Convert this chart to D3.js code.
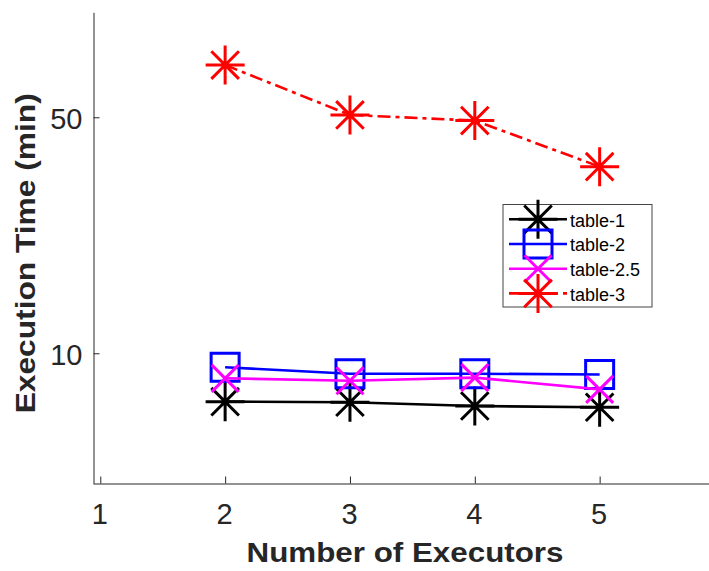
<!DOCTYPE html>
<html>
<head>
<meta charset="utf-8">
<script src="https://cdn.jsdelivr.net/npm/d3@7"></script>
<style>
  html, body { margin: 0; padding: 0; background: #fff; }
  svg { display: block; font-family: "Liberation Sans", Arial, Helvetica, sans-serif; }
</style>
</head>
<body>
<svg id="chart" width="709" height="571"></svg>
<script>
// ---- data ----
const executors = [2, 3, 4, 5];
const seriesNames = ["table-1", "table-2", "table-2.5", "table-3"];
const table1 = [7.19, 7.16, 6.98, 6.92];
const table2 = [9.09, 8.70, 8.70, 8.65];
const table25 = [8.43, 8.29, 8.47, 7.82];
const table3 = [71.4, 50.8, 48.9, 35.7];
const xTicks = [1, 2, 3, 4, 5];
const yTicks = [10, 50];
const xLabel = "Number of Executors";
const yLabel = "Execution Time (min)";

// ---- styles ----
const styles = [
  { color: "#000000", marker: "asterisk", dash: null },
  { color: "#0000ff", marker: "square", dash: null },
  { color: "#ff00ff", marker: "cross", dash: null },
  { color: "#ff0000", marker: "asterisk", dash: "13,5,4,5" }
];
const seriesValues = [table1, table2, table25, table3];

const svg = d3.select("#chart");
const x = d3.scaleLinear().domain([0.9416, 5.876]).range([93, 709]);
const y = d3.scaleLog().domain([4.12, 102.3]).range([483.3, 12.3]);

// axes
const axisColor = "#262626";
const gx = svg.append("g").attr("transform", "translate(0,483.5)")
  .call(d3.axisBottom(x).tickValues(xTicks).tickFormat(d3.format("d"))
    .tickSizeInner(-7).tickSizeOuter(0).tickPadding(19.5));
const gy = svg.append("g").attr("transform", "translate(93.5,0)")
  .call(d3.axisLeft(y).tickValues(yTicks).tickFormat(d3.format("d"))
    .tickSizeInner(-6).tickSizeOuter(0).tickPadding(11));
[gx, gy].forEach(g => {
  g.select(".domain").attr("stroke", axisColor).attr("stroke-width", 1);
  g.selectAll(".tick line").attr("stroke", axisColor).attr("stroke-width", 1);
  g.selectAll(".tick text").attr("fill", axisColor)
    .style("font-family", "'Liberation Sans', Arial, sans-serif").style("font-size", "29px");
});
gx.selectAll(".tick text").attr("dx", "-1");
gy.selectAll(".tick text").attr("dy", "0.4em");

// axis labels
svg.append("text")
  .attr("x", 405).attr("y", 562)
  .attr("text-anchor", "middle")
  .attr("font-size", 28).attr("font-weight", "bold").attr("fill", axisColor)
  .attr("textLength", 317).attr("lengthAdjust", "spacingAndGlyphs")
  .text(xLabel);
svg.append("text")
  .attr("transform", "translate(35,253.3) rotate(-90)")
  .attr("text-anchor", "middle")
  .attr("font-size", 28).attr("font-weight", "bold").attr("fill", axisColor)
  .attr("textLength", 320).attr("lengthAdjust", "spacingAndGlyphs")
  .text(yLabel);

// marker path generators
function markerPath(type, cx, cy) {
  const p = d3.path();
  if (type === "asterisk") {
    const r = 19.5, d = r * Math.SQRT1_2;
    p.moveTo(cx - r, cy); p.lineTo(cx + r, cy);
    p.moveTo(cx, cy - r); p.lineTo(cx, cy + r);
    p.moveTo(cx - d, cy - d); p.lineTo(cx + d, cy + d);
    p.moveTo(cx - d, cy + d); p.lineTo(cx + d, cy - d);
  } else if (type === "square") {
    const h = 14;
    p.rect(cx - h, cy - h, 2 * h, 2 * h);
  } else if (type === "cross") {
    const h = 13.5;
    p.moveTo(cx - h, cy - h); p.lineTo(cx + h, cy + h);
    p.moveTo(cx - h, cy + h); p.lineTo(cx + h, cy - h);
  }
  return p.toString();
}

const line = d3.line().x(d => x(d[0])).y(d => y(d[1]));

seriesValues.forEach((vals, i) => {
  const st = styles[i];
  const pts = executors.map((e, j) => [e, vals[j]]);
  const g = svg.append("g");
  g.append("path").attr("d", line(pts))
    .attr("fill", "none").attr("stroke", st.color).attr("stroke-width", 2.6)
    .attr("stroke-dasharray", st.dash);
  g.selectAll("path.m").data(pts).enter().append("path").attr("class", "m")
    .attr("d", d => markerPath(st.marker, x(d[0]), y(d[1])))
    .attr("fill", "none").attr("stroke", st.color).attr("stroke-width", 3);
});

// legend
const lg = svg.append("g");
lg.append("rect").attr("x", 503).attr("y", 204.5).attr("width", 149).attr("height", 102.5)
  .attr("fill", "#fff").attr("stroke", "#444").attr("stroke-width", 1);
seriesNames.forEach((name, i) => {
  const st = styles[i];
  const cy = 219.3 + i * 24.7;
  lg.append("line").attr("x1", 509).attr("x2", 567).attr("y1", cy).attr("y2", cy)
    .attr("stroke", st.color).attr("stroke-width", 2.6).attr("stroke-dasharray", st.dash);
  lg.append("path").attr("d", markerPath(st.marker, 538, cy))
    .attr("fill", "none").attr("stroke", st.color).attr("stroke-width", 3);
  lg.append("text").attr("x", 570).attr("y", cy + 7.3)
    .attr("font-size", 18).attr("fill", "#000").text(name);
});
</script>
</body>
</html>
